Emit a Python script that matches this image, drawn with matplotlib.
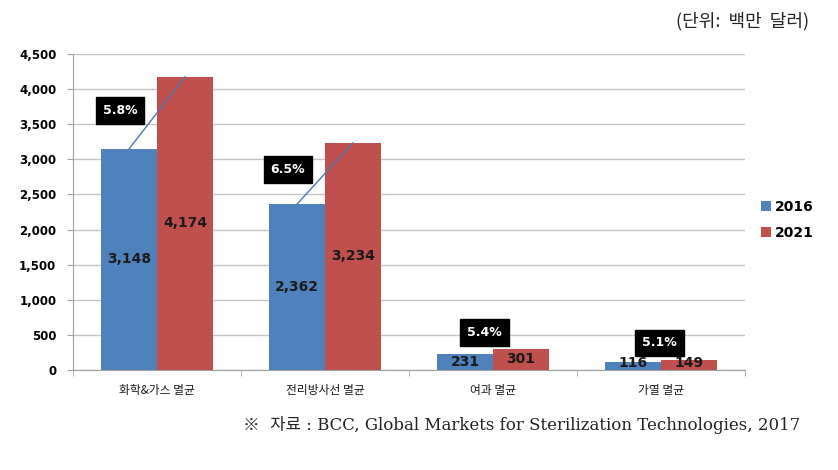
import matplotlib.pyplot as plt
import numpy as np

plt.rcParams['font.family'] = ['Noto Sans CJK KR', 'DejaVu Sans']

categories = ['화학&가스 멸균', '전리방사선 멸균', '여과 멸균', '가열 멸균']
years = ['2016', '2021']
v2016 = [3148, 2362, 231, 116]
v2021 = [4174, 3234, 301, 149]
growth = ['5.8%', '6.5%', '5.4%', '5.1%']
# where the growth boxes sit (offset from group centre, value)
growth_dx = [-0.22, -0.22, -0.05, -0.01]
growth_y = [3700, 2850, 530, 385]

blue = '#4F81BD'
red = '#C0504D'

fig = plt.figure(figsize=(8.38, 4.7), dpi=100)
ax = fig.add_axes([0.0871, 0.2128, 0.8019, 0.6723])

x = np.arange(len(categories))
w = 0.333
ax.bar(x - w / 2, v2016, w, color=blue, label=years[0], zorder=2)
ax.bar(x + w / 2, v2021, w, color=red, label=years[1], zorder=2)

# value labels inside the bars
for i in range(len(categories)):
    for xx, v in ((x[i] - w / 2, v2016[i]), (x[i] + w / 2, v2021[i])):
        ax.text(xx, max(v / 2, 95), f'{v:,}', ha='center', va='center',
                fontsize=10, fontweight='bold', color='#1a1a1a', zorder=4,
                family=['DejaVu Sans'])

# connector lines for the two large groups
for i in range(2):
    ax.plot([x[i] - w / 2, x[i] + w / 2], [v2016[i], v2021[i]],
            color='#4a7ab5', lw=1, zorder=3)

# growth rate boxes
for i in range(len(categories)):
    ax.text(x[i] + growth_dx[i], growth_y[i], growth[i], ha='center',
            va='center', fontsize=9, fontweight='bold', color='white',
            family=['DejaVu Sans'], zorder=5,
            bbox=dict(boxstyle='square,pad=0.55', fc='black', ec='black'))

ax.set_xlim(-0.5, len(categories) - 0.5)
ax.set_ylim(0, 4500)
ax.set_yticks(np.arange(0, 4501, 500))
ax.set_yticklabels([f'{t:,}' for t in range(0, 4501, 500)],
                   fontsize=8.5, fontweight='bold', family=['DejaVu Sans'])
ax.set_xticks(x)
ax.set_xticklabels(categories, fontsize=8.5, color='#1a1a1a')
ax.set_xticks(np.arange(-0.5, len(categories)), minor=True)
ax.tick_params(axis='x', which='major', length=0, pad=10)
ax.tick_params(axis='x', which='minor', length=4, color='#a0a0a0')
ax.tick_params(axis='y', length=4, color='#a0a0a0', pad=8)

ax.grid(axis='y', color='#c4c4c4', lw=1, zorder=0)
ax.set_axisbelow(True)
for s in ('top', 'right'):
    ax.spines[s].set_visible(False)
for s in ('left', 'bottom'):
    ax.spines[s].set_color('#a0a0a0')

leg = ax.legend(loc='center left', bbox_to_anchor=(1.005, 0.475), frameon=False,
                handlelength=0.7, handleheight=0.7, handletextpad=0.3,
                labelspacing=0.9, prop={'family': 'DejaVu Sans', 'weight': 'bold', 'size': 10})

fig.text(0.965, 0.955, '(단위:  백만  달러)', ha='right', va='center', fontsize=13,
         color='#222222')
fig.text(0.955, 0.095, '※  자료 : BCC, Global Markets for Sterilization Technologies, 2017',
         ha='right', va='center', fontsize=12, color='#222222',
         family=['DejaVu Serif', 'Noto Sans CJK KR'])

fig.savefig('out.png', dpi=100)
